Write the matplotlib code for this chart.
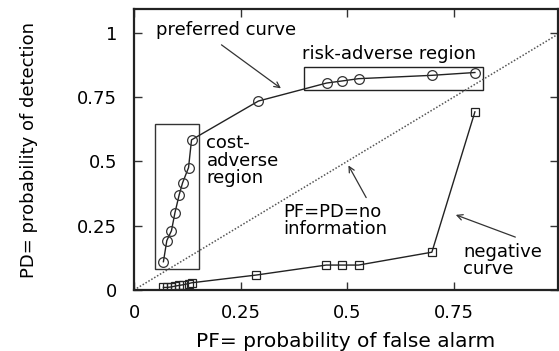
import matplotlib
matplotlib.use("Agg")
import matplotlib.pyplot as plt
from matplotlib.patches import Rectangle

plt.rcParams['font.family'] = ['DejaVu Sans']

# preferred curve (circles)
pref_pf = [0.069, 0.077, 0.088, 0.096, 0.106, 0.114, 0.128, 0.135, 0.292, 0.452, 0.488, 0.527, 0.699, 0.800]
pref_pd = [0.110, 0.192, 0.231, 0.300, 0.370, 0.417, 0.476, 0.584, 0.735, 0.805, 0.813, 0.822, 0.835, 0.846]

# negative curve (squares)
neg_pf = [0.069, 0.077, 0.088, 0.096, 0.106, 0.114, 0.128, 0.135, 0.286, 0.451, 0.488, 0.527, 0.699, 0.800]
neg_pd = [0.010, 0.010, 0.012, 0.015, 0.018, 0.020, 0.025, 0.028, 0.058, 0.097, 0.097, 0.097, 0.147, 0.693]

ticks = [0, 0.25, 0.5, 0.75, 1]
tick_labels = ["0", "0.25", "0.5", "0.75", "1"]

fig = plt.figure(figsize=(5.59, 3.51), dpi=100)
ax = fig.add_axes([134 / 559, 61 / 351, 424 / 559, 281 / 351])

ax.plot([0, 1], [0, 1], linestyle=(0, (1, 1.2)), color='#555555', lw=1.1)
ax.plot(pref_pf, pref_pd, color='#222222', lw=1.0, marker='o', ms=7,
        mfc='none', mec='#333333', mew=0.9)
ax.plot(neg_pf, neg_pd, color='#222222', lw=1.0, marker='s', ms=6,
        mfc='none', mec='#222222', mew=0.9)

ax.add_patch(Rectangle((0.049, 0.082), 0.104, 0.564, fill=False,
                       ec='#333333', lw=1.0))
ax.add_patch(Rectangle((0.398, 0.776), 0.422, 0.091, fill=False,
                       ec='#222222', lw=1.0))

fs = 13
ax.text(0.052, 1.012, "preferred curve", fontsize=fs, va='center', ha='left')
ax.annotate("", xy=(0.35, 0.778), xytext=(0.20, 0.96),
            arrowprops=dict(arrowstyle='->', color='#333333', lw=0.9))
ax.text(0.394, 0.918, "risk-adverse region", fontsize=fs, va='center', ha='left')
ax.text(0.170, 0.605, "cost-\nadverse\nregion", fontsize=fs, va='top', ha='left',
        linespacing=0.95)
ax.text(0.350, 0.338, "PF=PD=no\ninformation", fontsize=fs, va='top', ha='left',
        linespacing=0.95)
ax.annotate("", xy=(0.50, 0.494), xytext=(0.548, 0.35),
            arrowprops=dict(arrowstyle='->', color='#333333', lw=0.9))
ax.text(0.772, 0.183, "negative\ncurve", fontsize=fs, va='top', ha='left',
        linespacing=0.95)
ax.annotate("", xy=(0.749, 0.296), xytext=(0.901, 0.202),
            arrowprops=dict(arrowstyle='->', color='#333333', lw=0.9))

ax.set_xlim(0, 0.995)
ax.set_ylim(0, 1.093)
ax.set_xticks(ticks[:-1])
ax.set_xticklabels(tick_labels[:-1])
ax.set_yticks(ticks)
ax.set_yticklabels(tick_labels)
ax.tick_params(direction='in', top=True, right=True, length=6, width=1.0,
               labelsize=fs, color='#333333')
ax.tick_params(axis='x', pad=10)
ax.tick_params(axis='y', pad=12)
for s in ax.spines.values():
    s.set_linewidth(1.6)
    s.set_color('#222222')

ax.set_xlabel("PF= probability of false alarm", fontsize=14.5, labelpad=7)
ax.set_ylabel("PD= probability of detection", fontsize=13, labelpad=28)

fig.savefig("out.png", dpi=100)
